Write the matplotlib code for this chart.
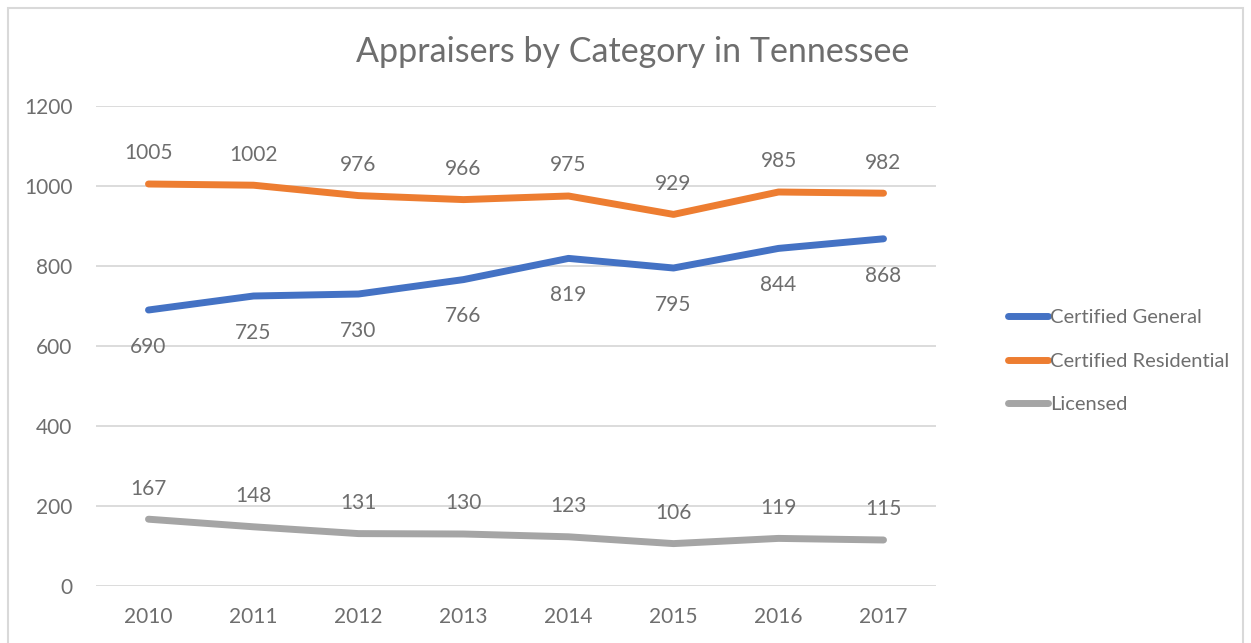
import numpy as np
import matplotlib.pyplot as plt
from matplotlib.patches import Rectangle

# datos
years = ["2010", "2011", "2012", "2013", "2014", "2015", "2016", "2017"]
general = [690, 725, 730, 766, 819, 795, 844, 868]
residential = [1005, 1002, 976, 966, 975, 929, 985, 982]
licensed = [167, 148, 131, 130, 123, 106, 119, 115]

# (nombre, valores, color, desplazamiento de la etiqueta en pt)
series = [
    ("Certified General", general, "#4472C4", -26.5),
    ("Certified Residential", residential, "#ED7D31", 22),
    ("Licensed", licensed, "#A5A5A5", 22),
]

plt.rcParams['font.family'] = ['Lato', 'DejaVu Sans']
txt = "#6E6E6E"

fig = plt.figure(figsize=(12.51, 6.43), dpi=100)
ax = fig.add_axes([96/1251, 1-586/643, 840/1251, 480/643])

# borde del grafico
fig.patches.append(Rectangle((8/1251, -0.05), 1235/1251, 1.05-8/643,
                             transform=fig.transFigure, fill=False,
                             edgecolor="#D9D9D9", linewidth=1.5))

x = np.arange(len(years))
for name, vals, col, off in series:
    ax.plot(x, vals, color=col, linewidth=5, solid_capstyle="round", label=name)
    for xi, v in zip(x, vals):
        ax.annotate(str(v), (xi, v), xytext=(0, off), textcoords="offset points",
                    ha="center", va="center", fontsize=15, color=txt)

ax.set_xlim(-0.5, len(years)-0.5)
ax.set_ylim(0, 1200)
ax.set_yticks(range(0, 1201, 200))
ax.set_xticks(x)
ax.set_xticklabels(years)
ax.grid(axis="y", color="#D9D9D9", linewidth=1.3)
ax.set_axisbelow(True)
for s in ax.spines.values():
    s.set_visible(False)
ax.tick_params(length=0, labelsize=15, labelcolor=txt)
ax.tick_params(axis="y", pad=17)
ax.tick_params(axis="x", pad=15)

fig.text(633/1251, 1-52/643, "Appraisers by Category in Tennessee",
         ha="center", va="center", fontsize=24.5, color=txt)

leg = fig.legend(loc="center left", bbox_to_anchor=(990/1251, 1-361/643),
                 frameon=False, fontsize=14.5, handlelength=2.0, handletextpad=0.1,
                 labelspacing=1.3, labelcolor=txt)
for l in leg.get_lines():
    l.set_linewidth(5)

plt.savefig("out.png")
